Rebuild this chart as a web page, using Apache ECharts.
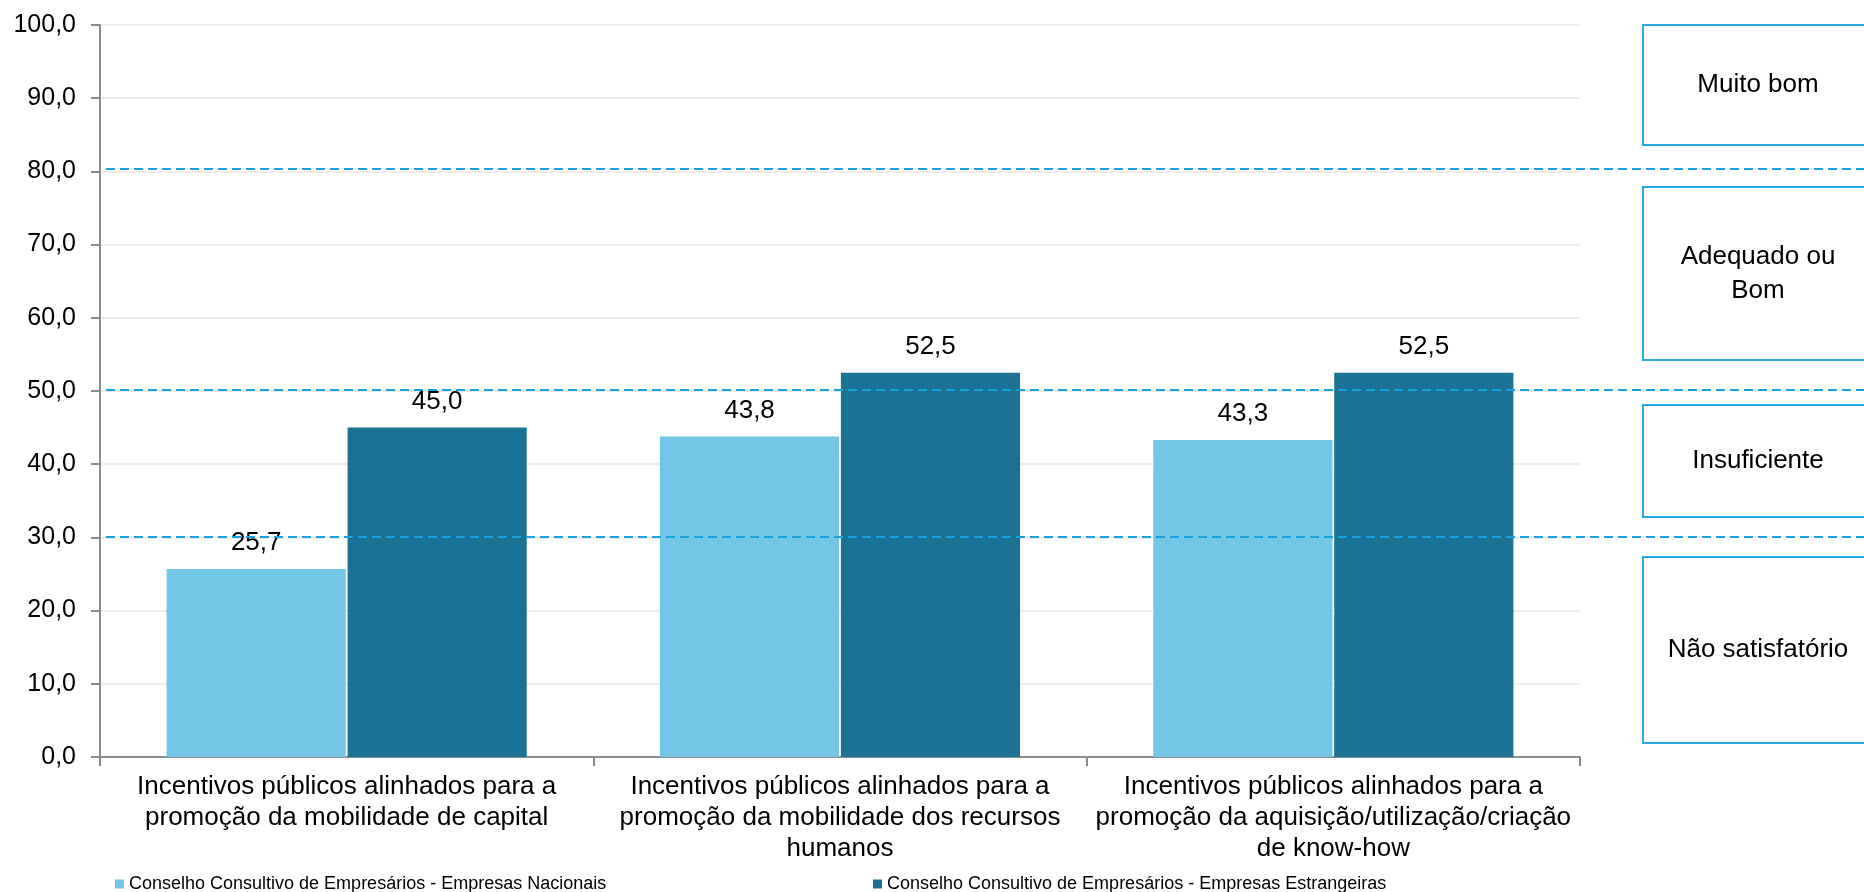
<!DOCTYPE html>
<html>
<head>
<meta charset="utf-8">
<script src="https://cdn.jsdelivr.net/npm/echarts@6/dist/echarts.min.js"></script>
<style>
html,body{margin:0;padding:0;background:#fff;}
#c{width:1864px;height:892px;}
</style>
</head>
<body>
<div id="c"></div>
<script>
const categories = [
  "Incentivos públicos alinhados para a\npromoção da mobilidade de capital",
  "Incentivos públicos alinhados para a\npromoção da mobilidade dos recursos\nhumanos",
  "Incentivos públicos alinhados para a\npromoção da aquisição/utilização/criação\nde know-how"
];
const seriesNames = [
  "Conselho Consultivo de Empresários - Empresas Nacionais",
  "Conselho Consultivo de Empresários - Empresas Estrangeiras"
];
const nacionais = [25.7, 43.8, 43.3];
const estrangeiras = [45.0, 52.5, 52.5];
const thresholds = [30.1, 50.2, 80.3];
const bandLabels = ["Muito bom", "Adequado ou\nBom", "Insuficiente", "Não satisfatório"];

const FONT = '"Liberation Sans", Arial, sans-serif';
const fmt = v => Number(v).toFixed(1).replace('.', ',');
const chart = echarts.init(document.getElementById('c'), null, {renderer: 'canvas'});

const boxGeom = [
  {y: 24, h: 120},
  {y: 186, h: 173},
  {y: 404, h: 112},
  {y: 556, h: 186}
];
const graphics = bandLabels.map((t, i) => ({
  type: 'group',
  left: 1642,
  top: boxGeom[i].y,
  children: [
    {type: 'rect', shape: {x: 0, y: 0, width: 240, height: boxGeom[i].h},
     style: {fill: '#fff', stroke: '#29ABE2', lineWidth: 2}},
    {type: 'text', x: 115, y: boxGeom[i].h / 2,
     style: {text: t, fill: '#000', font: '26px ' + FONT,
             textAlign: 'center', textVerticalAlign: 'middle', lineHeight: 34}}
  ]
}));

const legendText = {fontSize: 18, color: '#000', fontFamily: FONT};

chart.setOption({
  animation: false,
  textStyle: {fontFamily: FONT},
  grid: [
    {left: 100, right: 284, top: 25, bottom: 135},
    {left: 106, right: 0, top: 25, bottom: 135}
  ],
  legend: [
    {data: [seriesNames[0]], left: 110, top: 870, itemWidth: 9, itemHeight: 9, itemGap: 5,
     icon: 'rect', textStyle: legendText},
    {data: [seriesNames[1]], left: 868, top: 870, itemWidth: 9, itemHeight: 9, itemGap: 5,
     icon: 'rect', textStyle: legendText}
  ],
  xAxis: [
    {type: 'category', gridIndex: 0, data: categories,
     axisLine: {lineStyle: {color: '#8C8C8C', width: 2}},
     axisTick: {show: true, length: 9, lineStyle: {color: '#8C8C8C', width: 2}},
     axisLabel: {fontSize: 26, color: '#000', margin: 14, lineHeight: 31, interval: 0, fontFamily: FONT}},
    {type: 'value', gridIndex: 1, min: 0, max: 1, show: false}
  ],
  yAxis: [
    {type: 'value', gridIndex: 0, min: 0, max: 100, interval: 10,
     axisLine: {show: true, lineStyle: {color: '#8C8C8C', width: 2}},
     axisTick: {show: true, length: 9, lineStyle: {color: '#8C8C8C', width: 2}},
     splitLine: {show: true, lineStyle: {color: '#EDEDED', width: 2}},
     axisLabel: {fontSize: 25, color: '#000', margin: 24, formatter: v => fmt(v)}},
    {type: 'value', gridIndex: 1, min: 0, max: 100, show: false}
  ],
  series: [
    {name: seriesNames[0], type: 'bar', xAxisIndex: 0, yAxisIndex: 0, data: nacionais,
     barCategoryGap: '27%', barGap: '1%',
     itemStyle: {color: '#73C6E6'},
     label: {show: true, position: 'top', distance: 13, fontSize: 26, color: '#000', formatter: p => fmt(p.value)}},
    {name: seriesNames[1], type: 'bar', xAxisIndex: 0, yAxisIndex: 0, data: estrangeiras,
     barCategoryGap: '27%', barGap: '1%',
     itemStyle: {color: '#1B7294'},
     label: {show: true, position: 'top', distance: 13, fontSize: 26, color: '#000', formatter: p => fmt(p.value)}},
    {name: 'limiares', type: 'line', xAxisIndex: 1, yAxisIndex: 1, data: [],
     markLine: {silent: true, symbol: ['none', 'none'], label: {show: false},
                lineStyle: {color: '#17A2DE', type: [9, 5], width: 2},
                data: thresholds.map(v => ({yAxis: v}))}}
  ],
  graphic: graphics
});
</script>
</body>
</html>
